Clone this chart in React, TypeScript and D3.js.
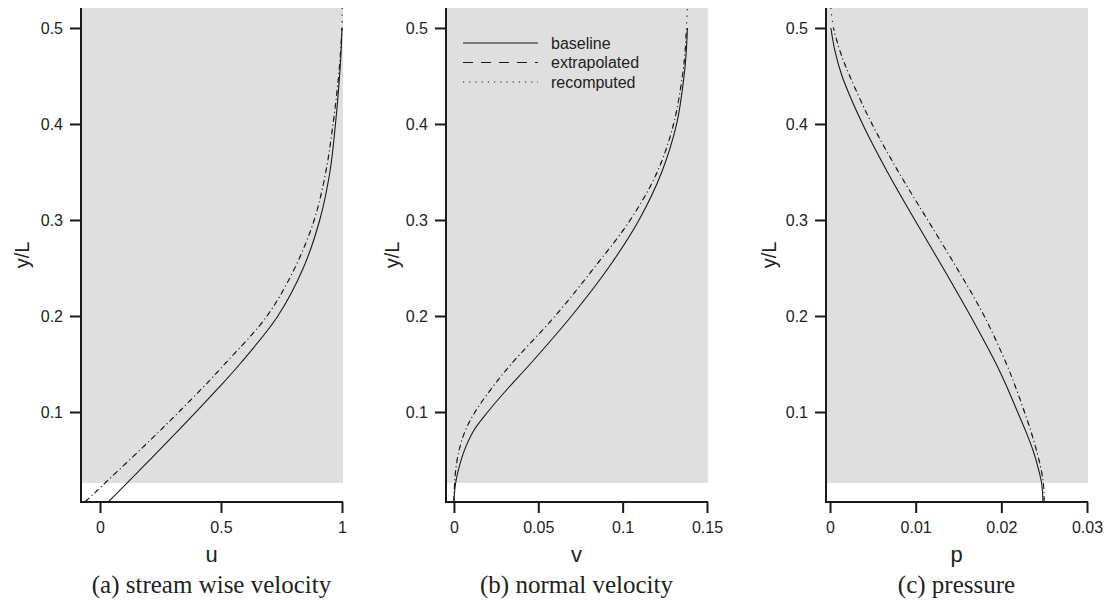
import React, { useEffect, useRef } from 'react';
import * as d3 from 'd3';

// shared y/L stations (recomputed runs a bit past 0.5, clipped at the frame)
const yLevels = [0.00625, 0.015, 0.026, 0.04, 0.06, 0.08, 0.1, 0.125, 0.15, 0.2, 0.25, 0.3, 0.35, 0.4, 0.45, 0.475, 0.5];
const yLevelsRecomputed = [0.00625, 0.015, 0.026, 0.04, 0.06, 0.08, 0.1, 0.125, 0.15, 0.2, 0.25, 0.3, 0.35, 0.4, 0.45, 0.475, 0.5, 0.53];

// (a) stream wise velocity u
const uBaseline = [0.034, 0.0685, 0.1115, 0.166, 0.244, 0.321, 0.397, 0.4895, 0.578, 0.735, 0.84, 0.908, 0.95, 0.973, 0.99, 0.996, 1.0];
const uExtrapolated = [-0.062, -0.0253, 0.0209, 0.0797, 0.1637, 0.2457, 0.3257, 0.4232, 0.5157, 0.69, 0.805, 0.885, 0.933, 0.963, 0.986, 0.994, 1.0];
const uRecomputed = [-0.062, -0.0253, 0.0209, 0.0797, 0.1637, 0.2457, 0.3257, 0.4232, 0.5157, 0.69, 0.805, 0.885, 0.933, 0.963, 0.986, 0.994, 1.0, 1.0];

// (b) normal velocity v
const vBaseline = [0.0, 0.0003, 0.001, 0.0027, 0.0062, 0.0115, 0.02, 0.0322, 0.0452, 0.0697, 0.0915, 0.1097, 0.1232, 0.132, 0.1364, 0.1377, 0.1384];
const vExtrapolated = [0.0, 0.0001, 0.0004, 0.0011, 0.003, 0.0066, 0.0125, 0.0225, 0.034, 0.06, 0.083, 0.1045, 0.1205, 0.1302, 0.1354, 0.137, 0.1378];
const vRecomputed = [0.0, 0.0001, 0.0004, 0.0011, 0.003, 0.0066, 0.0125, 0.0225, 0.034, 0.06, 0.083, 0.1045, 0.1205, 0.1302, 0.1354, 0.137, 0.1378, 0.1386];

// (c) pressure p
const pBaseline = [0.02485, 0.02482, 0.0247, 0.02435, 0.0237, 0.02285, 0.0219, 0.0207, 0.0194, 0.0164, 0.0132, 0.0099, 0.0067, 0.0038, 0.0014, 0.0006, 0.0001];
const pExtrapolated = [0.025, 0.02498, 0.0249, 0.02465, 0.0241, 0.02345, 0.0227, 0.0217, 0.0206, 0.018, 0.0148, 0.0114, 0.008, 0.0049, 0.0023, 0.0012, 0.0004];
const pRecomputed = [0.025, 0.02498, 0.0249, 0.02465, 0.0241, 0.02345, 0.0227, 0.0217, 0.0206, 0.018, 0.0148, 0.0114, 0.008, 0.0049, 0.0023, 0.0012, 0.0004, 0.0];

const yTicks = [0.1, 0.2, 0.3, 0.4, 0.5];
const uTicks = [0, 0.5, 1];
const vTicks = [0, 0.05, 0.1, 0.15];
const pTicks = [0, 0.01, 0.02, 0.03];

const seriesNames = ['baseline', 'extrapolated', 'recomputed'];

const panels = [
  { id: 'a', xDomain: [-0.0785, 1], left: 81, right: 342, ticks: uTicks, xLabel: 'u', caption: '(a) stream wise velocity', yLabelX: 29, base: uBaseline, extra: uExtrapolated, recomp: uRecomputed },
  { id: 'b', xDomain: [-0.0047, 0.15], left: 446, right: 707, ticks: vTicks, xLabel: 'v', caption: '(b) normal velocity', yLabelX: 399, base: vBaseline, extra: vExtrapolated, recomp: vRecomputed },
  { id: 'c', xDomain: [-0.00047, 0.03], left: 826, right: 1087, ticks: pTicks, xLabel: 'p', caption: '(c) pressure', yLabelX: 776, base: pBaseline, extra: pExtrapolated, recomp: pRecomputed },
];

const App = () => {
  const svgRef = useRef<SVGSVGElement>(null);

  useEffect(() => {
    const svg = d3.select(svgRef.current);
    svg.selectAll('*').remove();

    const top = 8;
    const bottom = 502;
    const yScale = d3.scaleLinear().domain([0.00625, 0.5208]).range([bottom, top]);
    const sans = "'Liberation Sans', Arial, Helvetica, sans-serif";
    const serif = "'Liberation Serif', 'Times New Roman', serif";
    const ink = '#1a1a1a';

    panels.forEach(p => {
      const xScale = d3.scaleLinear().domain(p.xDomain).range([p.left, p.right]);
      const g = svg.append('g');

      // grey field
      g.append('rect')
        .attr('x', p.left)
        .attr('y', top)
        .attr('width', p.right - p.left + 1)
        .attr('height', yScale(0.026) - top)
        .attr('fill', '#dfdfdf');

      g.append('clipPath').attr('id', `clip-${p.id}`)
        .append('rect')
        .attr('x', p.left)
        .attr('y', top)
        .attr('width', p.right - p.left + 2)
        .attr('height', bottom - top);

      const line = d3.line<[number, number]>()
        .x(d => xScale(d[0]))
        .y(d => yScale(d[1]))
        .curve(d3.curveCatmullRom.alpha(0.5));

      const curves = g.append('g').attr('clip-path', `url(#clip-${p.id})`);
      curves.append('path')
        .attr('d', line(p.base.map((v, i) => [v, yLevels[i]] as [number, number])))
        .attr('fill', 'none').attr('stroke', ink).attr('stroke-width', 1.1);
      curves.append('path')
        .attr('d', line(p.extra.map((v, i) => [v, yLevels[i]] as [number, number])))
        .attr('fill', 'none').attr('stroke', ink).attr('stroke-width', 1.1)
        .attr('stroke-dasharray', '6,7');
      curves.append('path')
        .attr('d', line(p.recomp.map((v, i) => [v, yLevelsRecomputed[i]] as [number, number])))
        .attr('fill', 'none').attr('stroke', ink).attr('stroke-width', 1.1)
        .attr('stroke-dasharray', '1.2,5.3').attr('stroke-dashoffset', -2.5);

      // axes
      const xAxis = d3.axisBottom(xScale).tickValues(p.ticks).tickSize(11).tickSizeOuter(0).tickPadding(9)
        .tickFormat(d => String(d));
      const yAxis = d3.axisLeft(yScale).tickValues(yTicks).tickSize(11).tickSizeOuter(0).tickPadding(7)
        .tickFormat(d => String(d));

      const gx = g.append('g').attr('transform', `translate(0,${bottom})`).call(xAxis);
      const gy = g.append('g').attr('transform', `translate(${p.left},0)`).call(yAxis);
      [gx, gy].forEach(a => {
        a.select('.domain').remove();
        a.selectAll('line').attr('stroke', ink).attr('stroke-width', 2);
        a.selectAll('text').attr('fill', '#222').style('font-family', sans).style('font-size', '16px');
      });

      g.append('line')
        .attr('x1', p.left).attr('x2', p.left)
        .attr('y1', top).attr('y2', bottom + 1)
        .attr('stroke', ink).attr('stroke-width', 2);
      g.append('line')
        .attr('x1', p.left - 1).attr('x2', p.right + 1)
        .attr('y1', bottom).attr('y2', bottom)
        .attr('stroke', ink).attr('stroke-width', 2);

      const mid = (p.left + p.right) / 2;
      g.append('text')
        .attr('x', mid).attr('y', 562)
        .attr('text-anchor', 'middle')
        .style('font-family', sans).style('font-size', '22px').attr('fill', '#222')
        .text(p.xLabel);

      g.append('text')
        .attr('transform', `translate(${p.yLabelX},${(top + bottom) / 2}) rotate(-90)`)
        .attr('text-anchor', 'middle')
        .style('font-family', sans).style('font-size', '20px').attr('fill', '#222')
        .text('y/L');

      g.append('text')
        .attr('x', mid).attr('y', 593)
        .attr('text-anchor', 'middle')
        .style('font-family', serif).style('font-size', '25px').attr('fill', '#222')
        .text(p.caption);
    });

    // legend in panel (b)
    const legend = svg.append('g');
    const dashes = [null, '10,8', '1.2,5'];
    seriesNames.forEach((name, i) => {
      const y = 43 + i * 19.5;
      legend.append('line')
        .attr('x1', 463).attr('x2', 538)
        .attr('y1', y).attr('y2', y)
        .attr('stroke', ink).attr('stroke-width', 1.1)
        .attr('stroke-dasharray', dashes[i]);
      legend.append('text')
        .attr('x', 551).attr('y', y).attr('dy', '0.35em')
        .style('font-family', sans).style('font-size', '16px').attr('fill', '#222')
        .text(name);
    });
  }, []);

  return (
    <svg ref={svgRef} width={1109} height={601}
      style={{ position: 'absolute', left: 0, top: 0, background: '#fff' }} />
  );
};

export default App;
